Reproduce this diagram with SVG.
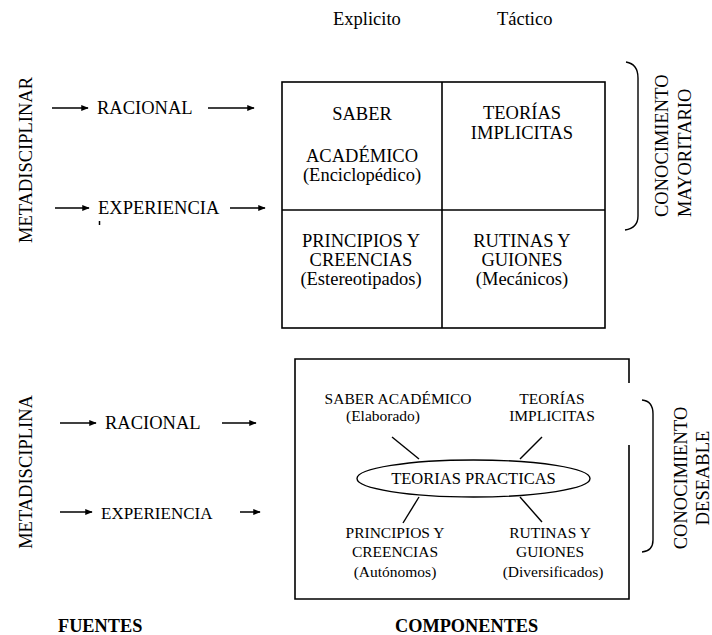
<svg xmlns="http://www.w3.org/2000/svg" width="712" height="635" viewBox="0 0 712 635">
  <style>
    text { font-family: "Liberation Serif", "Times New Roman", "DejaVu Serif", serif; fill: #000; }
    .l { font-size: 18.5px; }
    .m { font-size: 17px; }
    .s { font-size: 15.5px; }
    .c { text-anchor: middle; }
    .b { font-weight: bold; font-size: 18.3px; }
    .ln { stroke: #000; stroke-width: 1.4; fill: none; }
    .arr { stroke: #000; stroke-width: 1.5; fill: none; marker-end: url(#ah); }
    .box { stroke: #000; stroke-width: 1.6; fill: none; }
  </style>
  <defs>
    <marker id="ah" viewBox="0 0 10 10" refX="9" refY="5" markerWidth="5" markerHeight="5" orient="auto" markerUnits="strokeWidth">
      <path d="M0,1 L10,5 L0,9 Z" fill="#000"/>
    </marker>
  </defs>

  <rect width="712" height="635" fill="#fff"/>

  <!-- column headings -->
  <g id="headings">
    <text class="l" x="333" y="25">Explicito</text>
    <text class="l" x="497" y="25">Táctico</text>
  </g>

  <!-- upper block: sources -->
  <g id="metadisciplinar">
    <text class="l c" transform="translate(32,160) rotate(-90)">METADISCIPLINAR</text>
  </g>
  <g id="racional-1">
    <text class="l" x="97" y="114">RACIONAL</text>
  </g>
  <g id="experiencia-1">
    <text class="l" x="98" y="214">EXPERIENCIA</text>
    <line x1="99.5" y1="221" x2="99.5" y2="225" stroke="#000" stroke-width="1.5"/>
  </g>

  <!-- upper block: 2x2 grid -->
  <g id="grid">
    <rect class="box" x="282" y="82" width="323" height="246"/>
    <line class="box" x1="442" y1="82" x2="442" y2="328"/>
    <line class="box" x1="282" y1="210" x2="605" y2="210"/>
  </g>
  <g id="saber-academico">
    <text class="l c" x="362" y="120">SABER</text>
    <text class="l c" x="362" y="162">ACADÉMICO</text>
    <text class="l c" x="362" y="181">(Enciclopédico)</text>
  </g>
  <g id="teorias-implicitas">
    <text class="l c" x="522" y="119">TEORÍAS</text>
    <text class="l c" x="522" y="139">IMPLICITAS</text>
  </g>
  <g id="principios-creencias">
    <text class="l c" x="361" y="247">PRINCIPIOS Y</text>
    <text class="l c" x="361" y="266">CREENCIAS</text>
    <text class="l c" x="361" y="285">(Estereotipados)</text>
  </g>
  <g id="rutinas-guiones">
    <text class="l c" x="522" y="247">RUTINAS Y</text>
    <text class="l c" x="522" y="266">GUIONES</text>
    <text class="l c" x="522" y="285">(Mecánicos)</text>
  </g>

  <!-- upper bracket and label -->
  <g id="conocimiento-mayoritario">
    <path class="ln" d="M626,62 Q638,64 638,78 L638,216 Q638,228 625,230"/>
    <text class="l" transform="translate(668,217) rotate(-90)">CONOCIMIENTO</text>
    <text class="l" transform="translate(691,217) rotate(-90)">MAYORITARIO</text>
  </g>

  <!-- lower block: sources -->
  <g id="metadisciplina">
    <text class="l c" transform="translate(32,472) rotate(-90)">METADISCIPLINA</text>
  </g>
  <g id="racional-2">
    <text class="l" x="105" y="429">RACIONAL</text>
  </g>
  <g id="experiencia-2">
    <text class="m" x="101" y="519">EXPERIENCIA</text>
  </g>

  <!-- lower block: frame with a gap on the right side -->
  <g id="frame">
    <path class="box" d="M629,383 L629,359 L295,359 L295,599 L629,599 L629,445"/>
  </g>
  <g id="saber-elaborado">
    <text class="s c" x="398" y="404">SABER ACADÉMICO</text>
    <text class="s c" x="383" y="421">(Elaborado)</text>
  </g>
  <g id="teorias-implicitas-2">
    <text class="s c" x="552" y="404">TEORÍAS</text>
    <text class="s c" x="552" y="421">IMPLICITAS</text>
  </g>
  <g id="teorias-practicas">
    <ellipse class="ln" cx="473.5" cy="478.5" rx="116.5" ry="18.5"/>
    <text class="c" style="font-size:16.5px" x="473.5" y="484">TEORIAS PRACTICAS</text>
  </g>
  <g id="principios-autonomos">
    <text class="s c" x="395" y="538">PRINCIPIOS Y</text>
    <text class="s c" x="395" y="557">CREENCIAS</text>
    <text class="s c" x="395" y="577">(Autónomos)</text>
  </g>
  <g id="rutinas-diversificados">
    <text class="s c" x="550" y="538">RUTINAS Y</text>
    <text class="s c" x="550" y="557">GUIONES</text>
    <text class="s c" x="553" y="577">(Diversificados)</text>
  </g>

  <!-- lower bracket and label -->
  <g id="conocimiento-deseable">
    <path class="ln" d="M642,400 Q653,401 653,414 L653,540 Q653,551 642,552"/>
    <text class="l c" transform="translate(687,478) rotate(-90)">CONOCIMIENTO</text>
    <text class="l c" transform="translate(709,478) rotate(-90)">DESEABLE</text>
  </g>

  <!-- footer -->
  <g id="fuentes">
    <text class="b" x="58" y="632">FUENTES</text>
  </g>
  <g id="componentes">
    <text class="b" x="395" y="632">COMPONENTES</text>
  </g>

  <!-- connectors -->
  <g id="connectors">
    <line class="arr" x1="52" y1="108" x2="88" y2="108"/>
    <line class="arr" x1="208" y1="108" x2="254" y2="108"/>
    <line class="arr" x1="55" y1="208" x2="89" y2="208"/>
    <line class="arr" x1="230" y1="208" x2="265" y2="208"/>
    <line class="arr" x1="60" y1="423" x2="96" y2="423"/>
    <line class="arr" x1="222" y1="423" x2="256" y2="423"/>
    <line class="arr" x1="60" y1="512" x2="92" y2="512"/>
    <line class="arr" x1="240" y1="512" x2="260" y2="512"/>
    <line class="ln" x1="392" y1="437" x2="419" y2="459"/>
    <line class="ln" x1="542" y1="437" x2="520" y2="459"/>
    <line class="ln" x1="419" y1="497" x2="403" y2="523"/>
    <line class="ln" x1="520" y1="497" x2="542" y2="522"/>
  </g>
</svg>
